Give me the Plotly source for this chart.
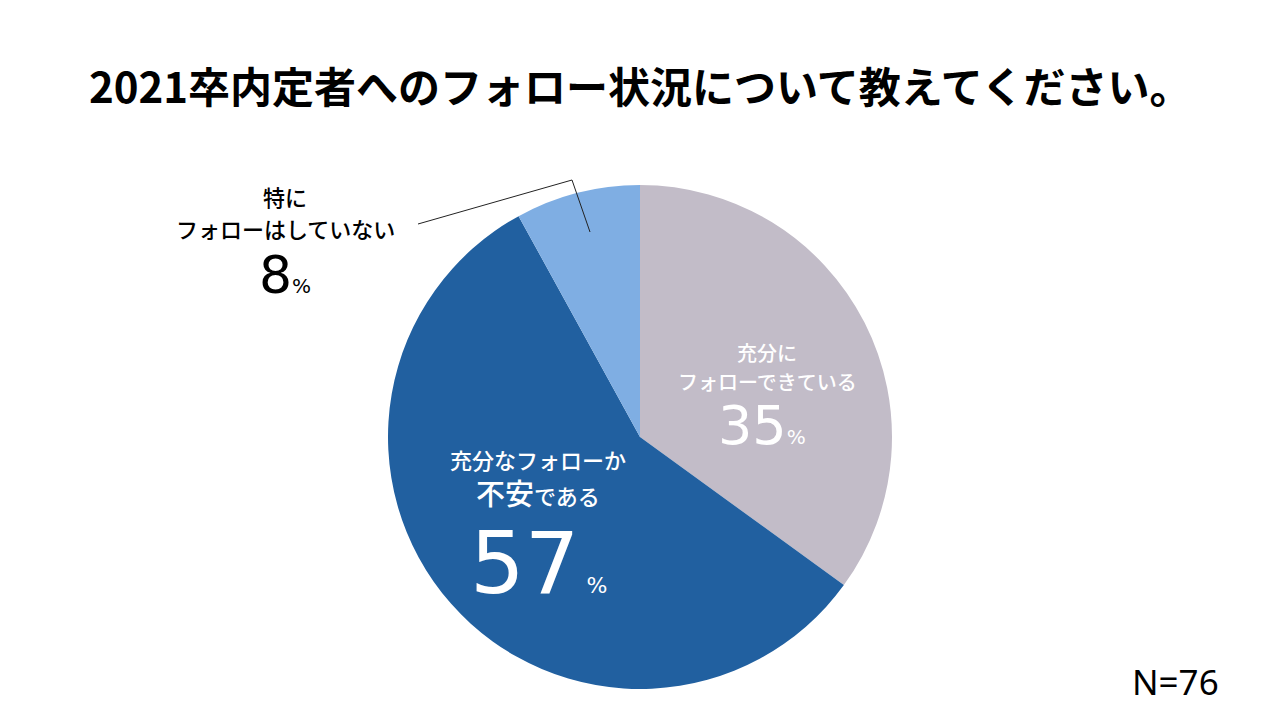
import plotly.graph_objects as go

labels = ["充分にフォローできている", "充分なフォローか不安である", "特にフォローはしていない"]
values = [35, 57, 8]
colors = ["#C2BCC8", "#2160A0", "#7FAEE3"]
title = "2021卒内定者へのフォロー状況について教えてください。"
n_text = "N=76"

JP = "Noto Sans CJK JP"
NUM = "DejaVu Sans"

fig = go.Figure()
fig.add_trace(go.Pie(
    labels=labels,
    values=values,
    marker=dict(colors=colors, line=dict(width=0)),
    sort=False,
    direction="clockwise",
    rotation=0,
    textinfo="none",
    hoverinfo="label+percent",
    showlegend=False,
    domain=dict(x=[0.3031, 0.6969], y=[0.0431, 0.7431]),
))

def pct(v, big, small, gap=""):
    return (f"<span style='font-family:{NUM};font-size:{big}px'>{v}</span>"
            f"<span style='font-family:{NUM};font-size:{small}px'>{gap}%</span>")

annots = [
    # gray slice
    dict(x=767, y=352, text="充分に", size=20, color="white"),
    dict(x=767, y=381, text="フォローできている", size=20, color="white"),
    dict(x=762, y=425, text=pct(values[0], 54, 20), size=20, color="white"),
    # dark blue slice
    dict(x=538, y=459, text="充分なフォローか", size=22, color="white"),
    dict(x=538, y=492, text="<span style='font-size:29px'>不安</span>である",
         size=22, color="white"),
    dict(x=538, y=563, text=pct(values[1], 86, 22, " "), size=22, color="white"),
    # outside label
    dict(x=285, y=196, text="特に", size=22, color="black"),
    dict(x=285, y=228, text="フォローはしていない", size=22, color="black"),
    dict(x=285, y=275, text=pct(values[2], 52, 20), size=20, color="black"),
]
for a in annots:
    fig.add_annotation(
        x=a["x"] / 1280, y=1 - a["y"] / 720, xref="paper", yref="paper",
        text=a["text"], showarrow=False, xanchor="center", yanchor="middle",
        font=dict(family=JP, size=a["size"], color=a["color"], weight=500),
    )

fig.add_annotation(
    x=640 / 1280, y=1 - 84 / 720, xref="paper", yref="paper",
    text=f"<b>{title}</b>", showarrow=False, xanchor="center", yanchor="middle",
    font=dict(family=JP, size=42, color="black"),
)
fig.add_annotation(
    x=1175 / 1280, y=1 - 681 / 720, xref="paper", yref="paper",
    text=n_text, showarrow=False, xanchor="center", yanchor="middle",
    font=dict(family="Noto Sans", size=35, color="black"),
)

# leader line for the small slice
fig.add_shape(type="path", xref="paper", yref="paper",
              path=f"M {418/1280},{1-224/720} L {572/1280},{1-180/720} L {590/1280},{1-232/720}",
              line=dict(color="#222222", width=1))

fig.update_layout(
    width=1280, height=720,
    margin=dict(l=0, r=0, t=0, b=0),
    paper_bgcolor="white", plot_bgcolor="white",
)

fig.write_html("out.html", config={"displayModeBar": False},
               post_script="document.body.style.margin='0';")
